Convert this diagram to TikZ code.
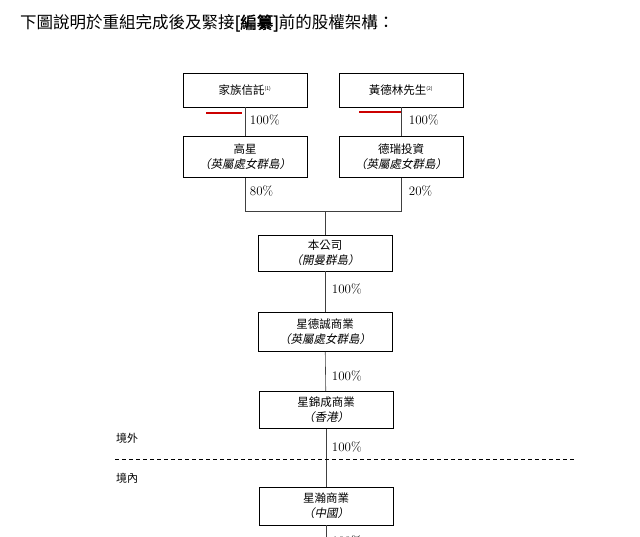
\documentclass[tikz,border=0pt]{standalone}
\usepackage{fontspec}
\newfontfamily\cjk[AutoFakeSlant=0.2,AutoFakeBold=2]{Noto Sans CJK TC}
\usetikzlibrary{positioning}
\tikzset{
  entity/.style={draw, line width=0.6pt, minimum height=36pt, align=center, inner sep=1pt, font=\cjk\fontsize{11.5}{15}\selectfont},
  pct/.style={anchor=west, inner sep=0.75pt, font=\fontsize{13}{15}\selectfont},
  link/.style={line width=0.6pt, draw=black!75},
}
\begin{document}
\begin{tikzpicture}[x=1pt,y=-1pt]
\useasboundingbox (0,0) rectangle (640,536);

% Title
\node (title) [anchor=west, inner sep=0pt, font=\cjk\fontsize{16.5}{18}\selectfont] at (20,23) {下圖說明於重組完成後及緊接\textbf{[編纂]}前的股權架構：};

% Shareholders
\node (trust) [entity, minimum width=124pt, minimum height=34pt] at (245,90) {家族信託\textsuperscript{\tiny(1)}};
\node (huang) [entity, minimum width=124pt, minimum height=34pt] at (401,90) {黃德林先生\textsuperscript{\tiny(2)}};
\node (gaoxing) [entity, minimum width=124pt, minimum height=41pt] at (245,157) {高星\\\textit{（英屬處女群島）}};
\node (derui) [entity, minimum width=124pt, minimum height=41pt] at (401,157) {德瑞投資\\\textit{（英屬處女群島）}};

% Group companies
\node (company) [entity, minimum width=134pt] at (325,253) {本公司\\\textit{（開曼群島）}};
\node (xdc) [entity, minimum width=134pt, minimum height=39pt] at (325,332) {星德誠商業\\\textit{（英屬處女群島）}};
\node (xjc) [entity, minimum width=134pt, minimum height=37pt] at (326,410) {星錦成商業\\\textit{（香港）}};
\node (xh) [entity, minimum width=134pt, minimum height=38pt] at (326,506) {星瀚商業\\\textit{（中國）}};
\coordinate (join) at (325,211);
\coordinate (bottom) at (326,540);

% Connectors
\draw[link] (trust) -- (gaoxing);
\draw[link] (huang) -- (derui);
\draw[link] (gaoxing.south) -- (gaoxing.south |- join) -- (derui.south |- join) -- (derui.south);
\draw[link] (join) -- (company);
\draw[link] (company) -- (xdc);
\draw[link] (xdc) -- (xjc);
\draw[link] (xjc) -- (xh);
\draw[link] (xh) -- (bottom);

% Red marks
\draw[red!80!black, line width=2.5pt] (206,113) -- (242,113);
\draw[red!80!black, line width=2.5pt] (359,112) -- (401,112);

% Percentages
\node (p1) [pct] at (249,120) {100\%};
\node (p2) [pct] at (408,120) {100\%};
\node (p3) [pct] at (249,191) {80\%};
\node (p4) [pct] at (408,191) {20\%};
\node (p5) [pct] at (331,289) {100\%};
\node (p6) [pct] at (331,376) {100\%};
\node (p7) [pct] at (331,447) {100\%};
\node (p8) [pct] at (331,541) {100\%};

% Border
\draw[dashed, line width=0.6pt, dash pattern=on 4pt off 3pt] (115,459) -- (575,459);
\node (outside) [anchor=west, inner sep=0pt, font=\cjk\fontsize{11}{13}\selectfont] at (116,438) {境外};
\node (inside) [anchor=west, inner sep=0pt, font=\cjk\fontsize{11}{13}\selectfont] at (116,478) {境內};
\end{tikzpicture}
\end{document}
